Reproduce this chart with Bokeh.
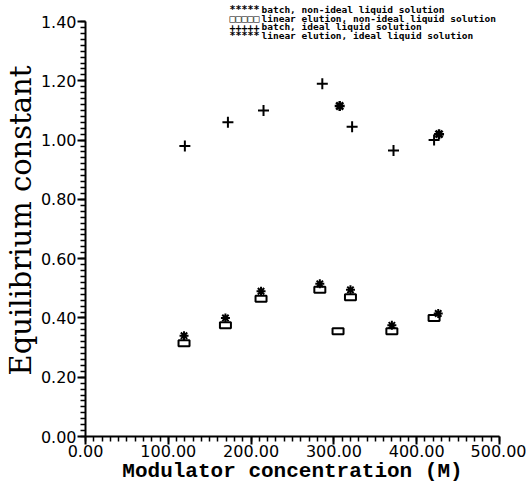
from bokeh.plotting import figure
from bokeh.models import SingleIntervalTicker, NumeralTickFormatter, Range1d, Label
from bokeh.embed import file_html
from bokeh.resources import INLINE

# data
batch_ideal_x = [120, 172, 215, 286, 322, 372, 421]
batch_ideal_y = [0.98, 1.06, 1.10, 1.19, 1.045, 0.965, 1.00]
linear_ideal_x = [307, 427]
linear_ideal_y = [1.115, 1.02]
batch_nonideal_x = [119, 169, 212, 283, 320, 370, 426]
batch_nonideal_y = [0.34, 0.40, 0.49, 0.515, 0.495, 0.375, 0.415]
linear_nonideal_x = [119, 169, 212, 283, 320, 305, 370, 421]
linear_nonideal_y = [0.315, 0.375, 0.465, 0.495, 0.47, 0.355, 0.355, 0.40]

legend_symbols = ["*****", "\u25a1\u25a1\u25a1\u25a1\u25a1", "+++++", "*****"]
legend_labels = [
    "batch, non-ideal liquid solution",
    "linear elution, non-ideal liquid solution",
    "batch, ideal liquid solution",
    "linear elution, ideal liquid solution",
]

# frame extends a little above 1.40 so the legend (above 1.40) is not clipped;
# the axis itself stops at 1.40 through its bounds
p = figure(width=526, height=486, output_backend="svg", toolbar_location=None,
           x_range=Range1d(0, 500.001), y_range=Range1d(0, 1.4574),
           min_border_left=84, min_border_right=27, min_border_top=4, min_border_bottom=50)
p.grid.visible = False
p.outline_line_color = None
p.background_fill_color = "white"
p.border_fill_color = "white"

p.xaxis.ticker = SingleIntervalTicker(interval=100, num_minor_ticks=10)
p.yaxis.ticker = SingleIntervalTicker(interval=0.2, num_minor_ticks=10)
p.yaxis.bounds = (0, 1.40001)
for ax in (p.xaxis, p.yaxis):
    ax.formatter = NumeralTickFormatter(format="0.00")
    ax.axis_line_width = 2
    ax.axis_line_color = "black"
    ax.major_tick_line_width = 2
    ax.minor_tick_line_width = 1.5
    ax.major_tick_line_color = "black"
    ax.minor_tick_line_color = "black"
    ax.major_tick_out = 8
    ax.major_tick_in = 0
    ax.minor_tick_out = 5
    ax.minor_tick_in = 0
    ax.major_label_text_font = "DejaVu Sans"
    ax.major_label_text_font_size = "16px"
    ax.major_label_text_color = "black"

p.xaxis.major_label_standoff = 0
p.yaxis.major_label_standoff = 1
p.xaxis.axis_label = "Modulator concentration (M)"
p.xaxis.axis_label_text_font = "Liberation Mono"
p.xaxis.axis_label_text_font_style = "bold"
p.xaxis.axis_label_text_font_size = "21px"
p.xaxis.axis_label_standoff = 0
p.yaxis.axis_label = "Equilibrium constant"
p.yaxis.axis_label_text_font = "DejaVu Serif"
p.yaxis.axis_label_text_font_style = "normal"
p.yaxis.axis_label_text_font_size = "29px"
p.yaxis.axis_label_standoff = 0
for ax in (p.xaxis, p.yaxis):
    ax.axis_label_text_color = "black"

p.scatter(batch_ideal_x, batch_ideal_y, marker="cross", size=11, line_width=2, line_color="black")
p.scatter(linear_ideal_x, linear_ideal_y, marker="asterisk", size=10, line_width=2.5, line_color="black")
p.scatter(batch_nonideal_x, batch_nonideal_y, marker="asterisk", size=9, line_width=2, line_color="black")
p.rect(linear_nonideal_x, linear_nonideal_y, width=11, height=6, width_units="screen",
       height_units="screen", fill_color=None, line_color="black", line_width=2)

# legend rows, positioned relative to the plot frame's bottom-left corner
for i, (sym, lab) in enumerate(zip(legend_symbols, legend_labels)):
    y = 436 - 9 - 8.6 * i
    p.add_layout(Label(x=144, y=y, x_units="screen", y_units="screen", text=sym,
                       text_font="DejaVu Sans Mono", text_font_style="bold",
                       text_font_size="10px", text_baseline="middle", text_color="black"))
    p.add_layout(Label(x=176, y=y, x_units="screen", y_units="screen", text=lab,
                       text_font="DejaVu Sans Mono", text_font_style="bold",
                       text_font_size="9.5px", text_baseline="middle", text_color="black"))

open("out.html", "w").write(file_html(p, INLINE))
